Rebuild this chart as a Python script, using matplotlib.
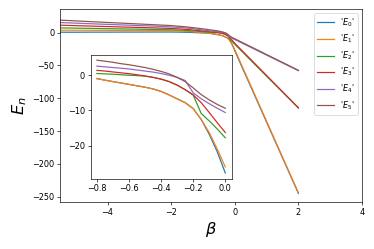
import numpy as np
import matplotlib
matplotlib.use('Agg')
import matplotlib.pyplot as plt

# Valores de beta (parte lejana, zoom cerca de 0, y punto final)
beta_far = [-5.5, -5.0, -4.5, -4.0, -3.5, -3.0, -2.5, -2.0, -1.5, -1.0]
beta_near = [-0.80, -0.75, -0.70, -0.65, -0.60, -0.55, -0.50, -0.45, -0.40,
             -0.35, -0.30, -0.25, -0.20, -0.15, -0.10, -0.05, 0.00]
beta_end = [2.0]

# Niveles de energia E_0 ... E_5
E0_far = [0.6, 0.6, 0.7, 0.7, 0.8, 0.8, 0.9, 0.9, 0.5, -0.5]
E1_far = [3.7, 3.6, 3.5, 3.4, 3.3, 3.2, 3.0, 2.8, 1.8, -0.1]
E2_far = [7.2, 6.8, 6.4, 6.0, 5.6, 5.2, 4.8, 4.3, 3.2, 1.4]
E3_far = [11.3, 10.6, 9.9, 9.2, 8.5, 7.8, 7.1, 6.3, 4.8, 2.4]
E4_far = [15.3, 14.4, 13.4, 12.5, 11.6, 10.7, 9.8, 8.6, 6.9, 3.9]
E5_far = [19.0, 17.8, 16.6, 15.4, 14.3, 13.1, 11.9, 10.7, 8.6, 5.7]

E0_near = [-0.95, -1.4, -1.8, -2.2, -2.6, -3.0, -3.4, -3.9, -4.6, -5.6, -6.7,
           -7.8, -9.5, -12.6, -16.8, -21.8, -27.8]
E1_near = [-0.95, -1.4, -1.8, -2.2, -2.6, -3.0, -3.4, -3.9, -4.6, -5.6, -6.7,
           -7.8, -9.5, -12.6, -16.3, -21.0, -26.1]
E2_near = [0.5, 0.4, 0.3, 0.15, 0.0, -0.1, -0.25, -0.6, -1.1, -1.8, -2.8,
           -4.1, -5.6, -10.9, -13.0, -15.3, -17.8]
E3_near = [1.4, 1.2, 0.95, 0.7, 0.45, 0.15, -0.2, -0.6, -1.1, -1.8, -2.8,
           -4.1, -5.6, -7.8, -10.6, -13.5, -16.3]
E4_near = [2.6, 2.4, 2.2, 2.0, 1.8, 1.5, 1.2, 0.9, 0.5, 0.0, -0.6,
           -1.5, -5.0, -6.7, -8.1, -9.4, -10.6]
E5_near = [4.3, 4.0, 3.7, 3.3, 3.0, 2.6, 2.2, 1.7, 1.1, 0.4, -0.6,
           -1.8, -3.6, -5.5, -7.0, -8.3, -9.4]

E_end = [-245.0, -244.0, -115.0, -114.5, -58.0, -57.5]

E_far = [E0_far, E1_far, E2_far, E3_far, E4_far, E5_far]
E_near = [E0_near, E1_near, E2_near, E3_near, E4_near, E5_near]

dpi = 58.5
fig = plt.figure(figsize=(374 / dpi, 249 / dpi), dpi=dpi)
ax = fig.add_axes([0.160, 0.189, 0.808, 0.775])

beta_all = np.array(beta_far + beta_near + beta_end)
for n in range(6):
    E_all = np.array(E_far[n] + E_near[n] + [E_end[n]])
    ax.plot(beta_all, E_all, label=f"'$E_{n}$'")

ax.set_xlim(-5.5, 4)
ax.set_ylim(-258, 36)
ax.set_xticks([-4, -2, 0, 2, 4])
ax.set_yticks([-250, -200, -150, -100, -50, 0])
ax.set_xlabel(r'$\beta$', fontsize=20)
ax.set_ylabel(r'$E_n$', fontsize=20)
ax.legend(loc='upper right')

# Grafica interior (zoom cerca de beta = 0)
axin = fig.add_axes([0.242, 0.283, 0.3775, 0.498])
for n in range(6):
    axin.plot(beta_near, E_near[n])
axin.set_xticks([-0.8, -0.6, -0.4, -0.2, 0.0])
axin.set_yticks([-20, -10, 0])

fig.savefig('out.png', dpi=dpi)
